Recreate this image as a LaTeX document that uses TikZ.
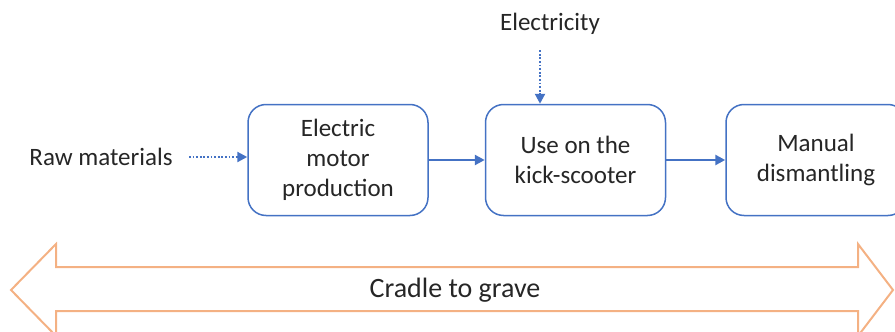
\documentclass[tikz,border=0pt]{standalone}
\usepackage{fontspec}
\setmainfont{Carlito}
\usepackage{xcolor}
\definecolor{flowblue}{HTML}{4472C4}
\definecolor{spanorange}{HTML}{F4B183}
\definecolor{flowtext}{HTML}{262626}
\usepackage{tikz}
\usetikzlibrary{arrows.meta,positioning}

\begin{document}
\begin{tikzpicture}[x=1pt,y=-1pt,node distance=56pt,
  stagebox/.style={draw=flowblue,line width=1.5pt,rounded corners=18pt,fill=white,
    minimum width=180pt,minimum height=111pt,align=center,text=flowtext,
    font=\fontsize{25}{30}\selectfont},
  flowlabel/.style={text=flowtext,font=\fontsize{25}{30}\selectfont},
  flowarrow/.style={draw=flowblue,line width=2.6pt,-{Triangle[length=10pt,width=10pt]}},
  inputarrow/.style={flowarrow,line width=2.2pt,dash pattern=on 1.8pt off 1.8pt}]
\useasboundingbox (0,0) rectangle (895,332);
\node[stagebox] (motor) at (338,160) {Electric\\motor\\production};
\node[stagebox,right=of motor] (use) {Use on the\\kick-scooter};
\node[stagebox,right=59pt of use] (dismantle) {Manual\\dismantling};
\node[flowlabel] (raw) at (101,157) {Raw materials};
\node[flowlabel] (power) at (550,24) {Electricity};
\draw[inputarrow,shorten <=13pt] (raw.east) -- (raw.east -| motor.west);
\draw[inputarrow,shorten <=12pt] ([xshift=-10pt]power.south) -- ([xshift=-10pt]power.south |- use.north);
\draw[flowarrow] (motor) -- (use);
\draw[flowarrow] (use) -- (dismantle);
\draw[spanorange,line width=2pt,line join=miter]
  (11,290) -- (56,244) -- (56,267) -- (858,267) -- (858,244) -- (893,290)
  -- (858,336) -- (858,311) -- (56,311) -- (56,336) -- cycle;
\node[flowlabel,font=\fontsize{28}{34}\selectfont] (span) at (455,290) {Cradle to grave};
\end{tikzpicture}
\end{document}
